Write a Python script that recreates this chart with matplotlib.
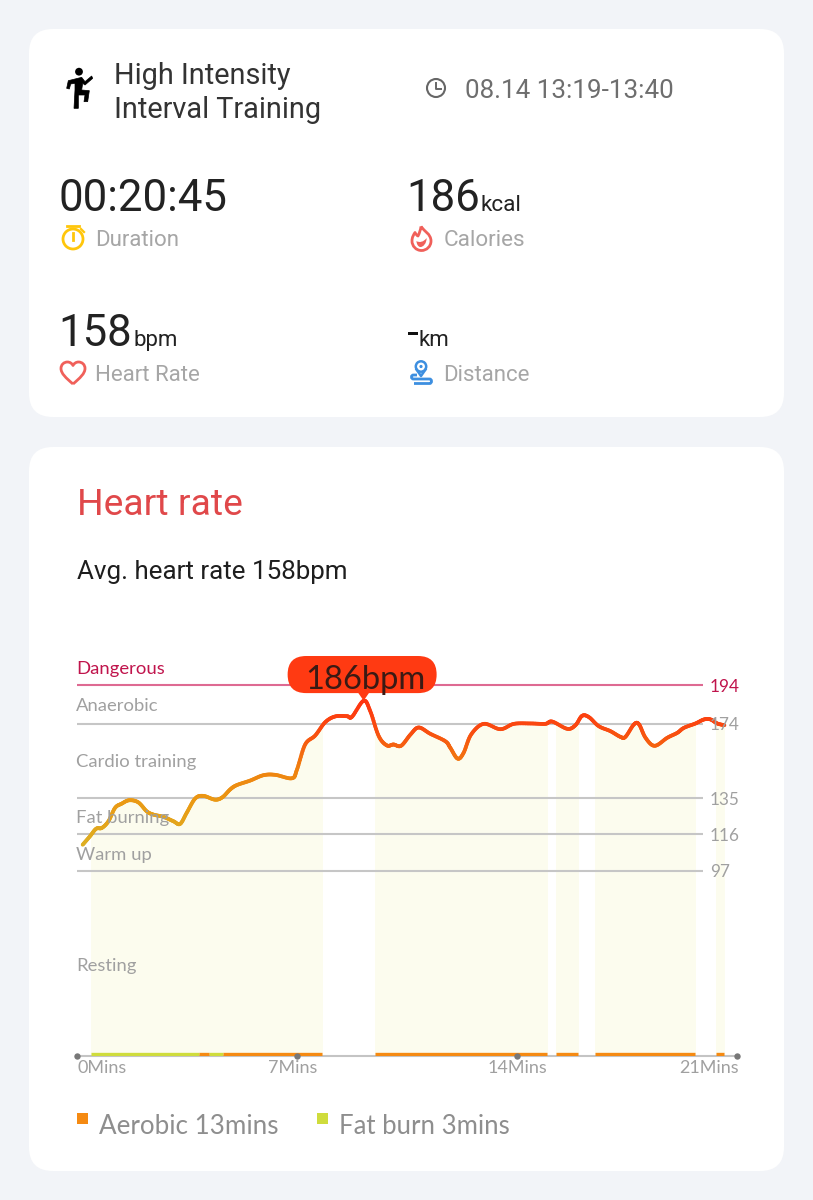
import numpy as np
import matplotlib
matplotlib.use("Agg")
import matplotlib.pyplot as plt
from matplotlib.collections import LineCollection
from matplotlib.colors import LinearSegmentedColormap
from matplotlib.patches import Circle, FancyBboxPatch, PathPatch, Polygon, Rectangle
from matplotlib.path import Path

# Workout heart rate samples
minutes = [0.18, 0.41, 0.61, 0.79, 1.00, 1.21, 1.42, 1.66, 1.95, 2.22, 2.43, 2.75, 3.07, 3.28,
           3.49, 3.76, 4.02, 4.39, 4.63, 4.87, 5.08, 5.51, 5.93, 6.31, 6.84, 7.00, 7.26, 7.58,
           7.90, 8.22, 8.59, 8.75, 9.12, 9.33, 9.60, 9.86, 10.07, 10.31, 10.61, 10.87, 11.24,
           11.72, 11.88, 12.11, 12.30, 12.54, 12.94, 13.47, 13.90, 14.43, 14.90, 15.12, 15.60,
           15.86, 16.07, 16.29, 16.60, 16.97, 17.29, 17.45, 17.72, 17.88, 18.09, 18.38, 18.78,
           19.10, 19.31, 19.68, 19.95, 20.16, 20.37, 20.60]
bpm = [110.6, 115.0, 119.0, 119.4, 122.9, 129.9, 132.1, 133.9, 132.8, 128.1, 126.4, 125.2, 122.9,
       121.5, 127.3, 134.8, 136.2, 134.2, 135.5, 139.5, 141.8, 144.2, 147.0, 147.2, 145.4, 150.0,
       163.1, 167.8, 174.8, 177.8, 177.9, 177.6, 186.0, 180.6, 167.5, 162.6, 163.1, 162.4, 168.3,
       172.0, 168.7, 164.8, 161.3, 155.7, 158.7, 168.3, 173.9, 171.1, 173.9, 174.1, 173.9, 175.1,
       171.3, 173.2, 178.1, 177.4, 172.7, 170.1, 167.1, 167.1, 173.6, 173.7, 166.6, 162.4, 166.6,
       169.2, 171.8, 174.1, 176.2, 176.2, 174.1, 173.2]

# Heart rate zones
zone_names = ["Dangerous", "Anaerobic", "Cardio training", "Fat burning", "Warm up", "Resting"]
zone_label_bpm = [202.5, 183, 154, 124.5, 105, 47]
zone_limits = [194, 174, 135, 116, 97]

# Exercise intervals as (start, end) in minutes
active_spans = [(0.44, 7.81), (9.47, 14.96), (15.25, 15.93), (16.47, 19.65), (20.34, 20.58)]
fat_burn_spans = [(0.44, 3.88), (4.19, 4.63)]
aerobic_spans = [(3.88, 4.19), (4.63, 7.81), (9.47, 14.96), (15.25, 15.93), (16.47, 19.65), (20.34, 20.58)]

tick_minutes = [0, 7, 14, 21]
tick_labels = ["0Mins", "7Mins", "14Mins", "21Mins"]

W, H = 813, 1200
UI_FONT = "Roboto"
CHART_FONT = "Lato"
GRAY = "#A6A6A6"
DARK = "#222222"
RED_ICON = "#F0605A"
BLUE_ICON = "#3D8FE0"
YELLOW_ICON = "#FFC60B"

fig = plt.figure(figsize=(W / 100, H / 100), dpi=100, facecolor="#F2F4F8")

# Page layer in pixel coordinates: cards, headline text and icons
bg = fig.add_axes([0, 0, 1, 1])
bg.set_xlim(0, W)
bg.set_ylim(H, 0)
bg.axis("off")


def card(x0, y0, x1, y1, r=24):
    bg.add_patch(FancyBboxPatch((x0 + r, y0 + r), x1 - x0 - 2 * r, y1 - y0 - 2 * r,
                                boxstyle=f"round,pad={r},rounding_size={r}", fc="white", ec="none"))


def label(x, y, s, size, color=DARK, **kw):
    kw.setdefault("family", UI_FONT)
    return bg.text(x, y, s, fontsize=size, color=color, va="baseline", ha="left", **kw)


def bezier(points):
    """Open cubic path: a start point followed by triples of control, control, end."""
    return Path(points, [Path.MOVETO] + [Path.CURVE4] * (len(points) - 1))


def smooth(xs, ys, steps=10):
    """Catmull-Rom rendering of a polyline so the trace draws with soft corners."""
    p = np.column_stack([xs, ys])
    p = np.vstack([p[0], p, p[-1]])
    out = [p[1]]
    for i in range(1, len(p) - 2):
        p0, p1, p2, p3 = p[i - 1], p[i], p[i + 1], p[i + 2]
        for t in np.linspace(0, 1, steps + 1)[1:]:
            out.append(0.5 * (2 * p1 + (p2 - p0) * t + (2 * p0 - 5 * p1 + 4 * p2 - p3) * t ** 2
                              + (3 * p1 - p0 - 3 * p2 + p3) * t ** 3))
    return np.array(out)


card(29, 29, 784, 417)
card(29, 447, 784, 1171)

label(114, 84, "High Intensity", 20.8, "#333333")
label(114, 118, "Interval Training", 20.8, "#333333")
label(465, 98, "08.14 13:19-13:40", 18.7, "#6E6E6E")

label(58, 211, "00:20:45", 31.5)
label(406, 211, "186", 31.5)
label(480, 211, "kcal", 16.2)
label(58, 346, "158", 31.5)
label(133, 346, "bpm", 16)
label(418, 346, "km", 16)
bg.add_patch(Rectangle((408, 332), 9.5, 3, fc="#111111", ec="none"))

label(95, 246, "Duration", 16, GRAY)
label(444, 246, "Calories", 16.2, GRAY)
label(95, 381, "Heart Rate", 16, GRAY)
label(443, 381, "Distance", 16, GRAY)

label(77, 515, "Heart rate", 26.8, "#E0484A")
label(77, 579, "Avg. heart rate 158bpm", 18.7, "#1E1E1E")

# Exercise figure icon
bg.add_patch(Circle((79, 71.7), 3.9, fc="black", ec="none"))
figure_shape = np.array([(80, 145), (85, 122), (125, 112), (135, 125), (155, 108), (158, 115), (135, 135),
                         (128, 130), (125, 150), (148, 152), (143, 185), (132, 185), (135, 165), (115, 165),
                         (115, 205), (102, 205), (105, 150), (105, 130), (92, 132), (88, 147)]) / 3 + 40
bg.add_patch(Polygon(figure_shape, fc="black", ec="black", lw=0.5))

# Clock icon
bg.add_patch(Circle((436, 88), 9, fc="none", ec="#666666", lw=1.5))
bg.plot([436, 436, 441], [82.5, 88.5, 88.5], color="#666666", lw=1.4)

# Stopwatch icon
bg.add_patch(Circle((73, 239), 10, fc="none", ec=YELLOW_ICON, lw=2))
bg.plot([67, 79], [225.5, 225.5], color=YELLOW_ICON, lw=2)
bg.plot([73, 73], [233, 240], color=YELLOW_ICON, lw=2)
bg.plot([81, 84], [229, 232], color=YELLOW_ICON, lw=1.6)

# Flame icon
flame_outline = bezier([(421, 226.5), (424, 231), (431, 234), (431, 241), (431, 246.5), (426.5, 250.5), (421.5, 250.5),
                        (416, 250.5), (412, 246), (412, 241), (412, 237), (413.5, 235), (415, 232.5),
                        (416, 234.5), (417, 235.5), (418, 236), (419.5, 233), (420.5, 230), (421, 226.5)])
bg.add_patch(PathPatch(flame_outline, fc="none", ec=RED_ICON, lw=2, joinstyle="round"))
flame_core = bezier([(416.5, 241), (419, 243), (424, 242), (426.5, 238), (427, 243), (423, 247.5), (420, 247),
                     (418, 246.5), (416.5, 244), (416.5, 241)])
bg.add_patch(PathPatch(flame_core, fc=RED_ICON, ec="none"))

# Heart icon
heart = bezier([(73, 384), (66, 378), (61, 373.5), (61, 368.5), (61, 364.5), (64, 362), (67.5, 362),
                (70, 362), (72, 363.5), (73, 365.5), (74, 363.5), (76, 362), (78.5, 362),
                (82, 362), (85, 364.5), (85, 368.5), (85, 373.5), (80, 378), (73, 384)])
bg.add_patch(PathPatch(heart, fc="none", ec=RED_ICON, lw=2, joinstyle="round"))

# Route icon
bg.add_patch(Circle((421, 366.5), 5.2, fc="none", ec=BLUE_ICON, lw=1.8))
bg.add_patch(Circle((421, 366.5), 1.6, fc=BLUE_ICON, ec="none"))
bg.plot([416.5, 421, 425.5], [369.5, 376, 369.5], color=BLUE_ICON, lw=1.8)
route = Path([(417, 375), (413.5, 375), (411.5, 375), (411.5, 377), (411.5, 379), (413.5, 379), (429.5, 379),
              (431.5, 379), (431.5, 381.2), (431.5, 383.5), (429.5, 383.5), (414, 383.5)],
             [Path.MOVETO, Path.LINETO, Path.CURVE3, Path.CURVE3, Path.CURVE3, Path.CURVE3, Path.LINETO,
              Path.CURVE3, Path.CURVE3, Path.CURVE3, Path.CURVE3, Path.LINETO])
bg.add_patch(PathPatch(route, fc="none", ec=BLUE_ICON, lw=2))

# Heart rate chart: 31.43 px per minute, 1.91 px per bpm, zero at y=1056
x_left, x_right = 77, 737
y_zero, y_top = 1056, 640
ax = fig.add_axes([x_left / W, 1 - y_zero / H, (x_right - x_left) / W, (y_zero - y_top) / H])
ax.set_xlim(0, 21)
ax.set_ylim(0, (y_zero - y_top) / 1.91)
ax.axis("off")
ax.patch.set_alpha(0)

curve = smooth(minutes, bpm)

for start, end in active_spans:
    area = ax.fill_between(curve[:, 0], 0, curve[:, 1], color="#FCFCEE", lw=0, zorder=1)
    area.set_clip_path(Rectangle((start, 0), end - start, 300, transform=ax.transData))

for value in zone_limits:
    is_top = value == zone_limits[0]
    ax.plot([0, 19.93], [value, value], color="#DE6A92" if is_top else "#C6C6C6", lw=1.5, zorder=2,
            solid_capstyle="butt")
    ax.text(20.13, value - 0.8, str(value), color="#C0144C" if is_top else "#A0A0A0", fontsize=12.3,
            family=CHART_FONT, va="center", ha="left", clip_on=False, zorder=5)

for i, (name, value) in enumerate(zip(zone_names, zone_label_bpm)):
    ax.text(-0.02, value, name, color="#C0144C" if i == 0 else "#A0A0A0", fontsize=13.3,
            family=CHART_FONT, va="center", ha="left", zorder=5)

# Baseline with interval strips and minute markers
ax.plot([0, 21], [0, 0], color="#C4C4C4", lw=1.5, zorder=2, clip_on=False)
for start, end in fat_burn_spans:
    ax.plot([start, end], [1, 1], color="#CFDC3C", lw=2.4, zorder=3, solid_capstyle="butt")
for start, end in aerobic_spans:
    ax.plot([start, end], [1, 1], color="#F58A12", lw=2.4, zorder=3, solid_capstyle="butt")
ax.plot(tick_minutes, [0] * 4, "o", color="#777777", ms=4.6, mew=0, zorder=4, clip_on=False)

tick_align = ["left", "right", "center", "right"]
tick_shift = [0, 20, 0, 2]
for m, s, ha, dx in zip(tick_minutes, tick_labels, tick_align, tick_shift):
    ax.annotate(s, (m, 0), xytext=(dx * 0.72, -12 * 0.72), textcoords="offset points", ha=ha, va="center",
                fontsize=13, color="#A0A0A0", family=CHART_FONT, annotation_clip=False)

# Line shaded from amber to red as the rate climbs
line_cmap = LinearSegmentedColormap.from_list(
    "effort", [(0, "#DDB024"), (0.3, "#EA9A14"), (0.55, "#F08010"), (0.8, "#F94C10"), (1, "#FF3410")])
segs = np.stack([curve[:-1], curve[1:]], axis=1)
trace = LineCollection(segs, cmap=line_cmap, norm=plt.Normalize(110, 186), linewidths=2.7,
                       capstyle="round", joinstyle="round", zorder=4)
trace.set_array((curve[:-1, 1] + curve[1:, 1]) / 2)
ax.add_collection(trace)

# Callout pinned to the peak sample
peak_i = int(np.argmax(bpm))
tip = bg.transData.inverted().transform(ax.transData.transform((minutes[peak_i], bpm[peak_i])))
callout = dict(fc="#FF3A12", ec="none", transform=bg.transData, zorder=6, clip_on=False)
ax.add_patch(FancyBboxPatch((tip[0] - 76 + 18.5, 674.5), 149 - 37, 0.1,
                            boxstyle="round,pad=18.5,rounding_size=18.5", **callout))
ax.add_patch(Polygon([(tip[0] - 6, 692), (tip[0] + 6, 692), tip], **callout))
ax.text(365, 680, f"{bpm[peak_i]:.0f}bpm", transform=bg.transData, ha="center", va="center", fontsize=23.5,
        family=CHART_FONT, color="#3A1A14", zorder=7, clip_on=False)

# Legend
bg.add_patch(Rectangle((77, 1113), 11, 11, fc="#F58A12", ec="none"))
bg.add_patch(Rectangle((317, 1113), 11, 11, fc="#CFDC3C", ec="none"))
label(99, 1134, "Aerobic 13mins", 18.7, "#8E8E8E", family=CHART_FONT)
label(339, 1134, "Fat burn 3mins", 18.5, "#8E8E8E", family=CHART_FONT)

fig.savefig("out.png", dpi=100, facecolor=fig.get_facecolor())
